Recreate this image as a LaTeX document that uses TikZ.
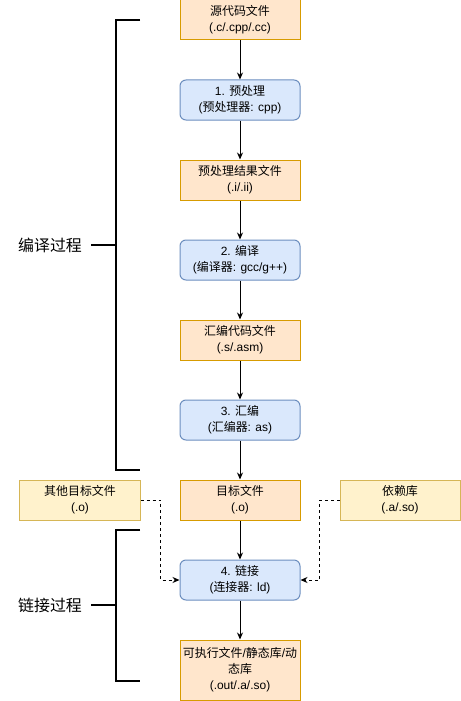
\documentclass[tikz,border=0pt]{standalone}
\usepackage{fontspec}
\setmainfont{Liberation Sans}
\newfontfamily\cjk{Noto Sans CJK SC}
\usetikzlibrary{arrows.meta,calc}

\definecolor{filefill}{HTML}{FFE6CC}
\definecolor{filedraw}{HTML}{D79B00}
\definecolor{stepfill}{HTML}{DAE8FC}
\definecolor{stepdraw}{HTML}{6C8EBF}
\definecolor{extfill}{HTML}{FFF2CC}
\definecolor{extdraw}{HTML}{D6B656}

\tikzset{
    box/.style={minimum width=120bp, minimum height=40bp, inner sep=0pt,
        align=center, line width=1bp, font=\fontsize{12}{16}\selectfont},
    filebox/.style={box, draw=filedraw, fill=filefill},
    stepbox/.style={box, draw=stepdraw, fill=stepfill, rounded corners=6bp},
    extbox/.style={box, draw=extdraw, fill=extfill},
    flow/.style={-{Stealth[length=7bp,width=6bp]}, line width=1bp},
    dep/.style={flow, dash pattern=on 3bp off 3bp},
    bracket/.style={line width=2bp},
    phase/.style={font=\fontsize{16}{18}\selectfont\cjk}
}

\begin{document}
\begin{tikzpicture}[x=1bp,y=-1bp]
    \useasboundingbox (0,0) rectangle (461,701);
    %% Compile chain
    \node[filebox] (src) at (240,20) {{\cjk 源代码文件}\\(.c/.cpp/.cc)};
    \node[stepbox] (pre) at (240,100) {1. {\cjk 预处理}\\({\cjk 预处理器}: cpp)};
    \node[filebox] (ifile) at (240,180) {{\cjk 预处理结果文件}\\(.i/.ii)};
    \node[stepbox] (comp) at (240,260) {2. {\cjk 编译}\\({\cjk 编译器}: gcc/g++)};
    \node[filebox] (sfile) at (240,340) {{\cjk 汇编代码文件}\\(.s/.asm)};
    \node[stepbox] (asm) at (240,420) {3. {\cjk 汇编}\\({\cjk 汇编器}: as)};
    \node[filebox] (obj) at (240,500) {{\cjk 目标文件}\\(.o)};
    %% Link
    \node[extbox] (other) at (80,500) {{\cjk 其他目标文件}\\(.o)};
    \node[extbox] (lib) at (400,500) {{\cjk 依赖库}\\(.a/.so)};
    \node[stepbox] (link) at (240,580) {4. {\cjk 链接}\\({\cjk 连接器}: ld)};
    \node[filebox, minimum height=60bp] (out) at (240,670)
        {{\cjk 可执行文件}/{\cjk 静态库}/{\cjk 动}\\{\cjk 态库}\\(.out/.a/.so)};

    \draw[flow] (src) -- (pre);
    \draw[flow] (pre) -- (ifile);
    \draw[flow] (ifile) -- (comp);
    \draw[flow] (comp) -- (sfile);
    \draw[flow] (sfile) -- (asm);
    \draw[flow] (asm) -- (obj);
    \draw[flow] (obj) -- (link);
    \draw[flow] (link) -- (out);
    \draw[dep] (other.east) -- ++(20,0) |- (link.west);
    \draw[dep] (lib.west) -- ++(-20,0) |- (link.east);

    %% Phase brackets
    \node[phase] (compile) at (50,245) {编译过程};
    \coordinate (ctop) at (140,20);
    \coordinate (cbot) at (140,470);
    \coordinate (ctick) at (116,245);
    \draw[bracket] (ctop) -- (116,20) -- (116,470) -- (cbot);
    \draw[bracket] (91,245) -- (ctick);

    \node[phase] (linking) at (50,605) {链接过程};
    \coordinate (ltop) at (140,530);
    \coordinate (lbot) at (140,681);
    \coordinate (ltick) at (116,605);
    \draw[bracket] (ltop) -- (116,530) -- (116,681) -- (lbot);
    \draw[bracket] (91,605) -- (ltick);
\end{tikzpicture}
\end{document}
